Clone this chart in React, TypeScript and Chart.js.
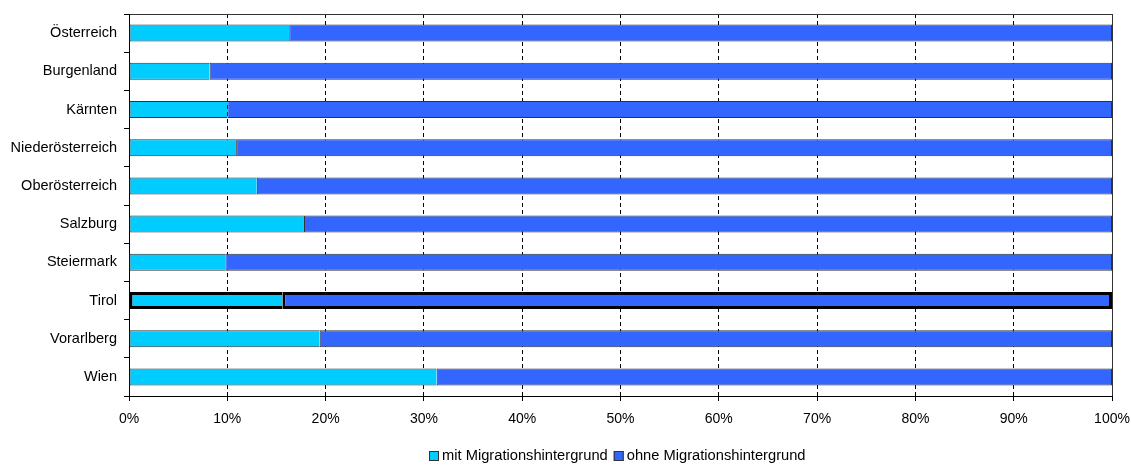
import { useEffect, useRef } from 'react';
import { Chart, registerables } from 'chart.js';

Chart.register(...registerables);

// Share of the population with / without migration background, by federal state (percent)
const regions = [
  'Österreich',
  'Burgenland',
  'Kärnten',
  'Niederösterreich',
  'Oberösterreich',
  'Salzburg',
  'Steiermark',
  'Tirol',
  'Vorarlberg',
  'Wien',
];
const withMigration = [16.3, 8.2, 10.0, 10.9, 13.0, 17.8, 9.8, 15.6, 19.4, 31.3];
const withoutMigration = [83.7, 91.8, 90.0, 89.1, 87.0, 82.2, 90.2, 84.4, 80.6, 68.7];
const seriesLabels = ['mit Migrationshintergrund', 'ohne Migrationshintergrund'];
const seriesColors = ['#00CCFF', '#3366FF'];
const highlightedRegion = 'Tirol';

const FONT = '"Liberation Sans", Arial, Helvetica, sans-serif';

const isHighlighted = (ctx: any) =>
  ctx && ctx.type === 'data' && regions[ctx.dataIndex] === highlightedRegion;

// Legend drawn below the x axis: small framed squares followed by the series names
const bottomLegend = {
  id: 'bottomLegend',
  afterDraw(chart: any) {
    const { ctx, chartArea } = chart;
    const box = 10;
    const textGap = 3;
    const itemGap = 6;
    ctx.save();
    ctx.font = `14.7px ${FONT}`;
    const items = chart.data.datasets.map((ds: any) => ({
      label: ds.label,
      color: ds.backgroundColor,
      w: ctx.measureText(ds.label).width,
    }));
    const total =
      items.reduce((s: number, it: any) => s + box + textGap + it.w, 0) +
      itemGap * (items.length - 1);
    let x = Math.round((chartArea.left + chartArea.right) / 2 - 3 - total / 2);
    const cy = chart.height - 10;
    ctx.textBaseline = 'middle';
    ctx.textAlign = 'left';
    for (const it of items) {
      const top = Math.round(cy - box / 2);
      ctx.fillStyle = it.color;
      ctx.fillRect(x, top, box, box);
      ctx.strokeStyle = '#333';
      ctx.lineWidth = 1;
      ctx.strokeRect(x + 0.5, top + 0.5, box - 1, box - 1);
      ctx.fillStyle = '#000';
      ctx.fillText(it.label, x + box + textGap, cy);
      x += box + textGap + it.w + itemGap;
    }
    ctx.restore();
  },
};

export default function App() {
  const canvasRef = useRef<HTMLCanvasElement | null>(null);

  useEffect(() => {
    const canvas = canvasRef.current;
    if (!canvas) return;

    const chart = new Chart(canvas, {
      type: 'bar',
      data: {
        labels: regions,
        datasets: [
          {
            label: seriesLabels[0],
            data: withMigration,
            backgroundColor: seriesColors[0],
            borderColor: (ctx: any) => (isHighlighted(ctx) ? '#000' : '#333'),
            borderWidth: (ctx: any) => {
              const w = isHighlighted(ctx) ? 3 : 1;
              return { top: w, bottom: w, left: w, right: 0 };
            },
            borderSkipped: false,
            categoryPercentage: 0.445,
            barPercentage: 1,
          },
          {
            label: seriesLabels[1],
            data: withoutMigration,
            backgroundColor: seriesColors[1],
            borderColor: (ctx: any) => (isHighlighted(ctx) ? '#000' : '#333'),
            borderWidth: (ctx: any) => {
              const w = isHighlighted(ctx) ? 3 : 1;
              return { top: w, bottom: w, left: w, right: w };
            },
            borderSkipped: false,
            categoryPercentage: 0.445,
            barPercentage: 1,
          },
        ],
      },
      options: {
        indexAxis: 'y',
        responsive: false,
        devicePixelRatio: 1,
        animation: false,
        layout: { padding: { top: 14, right: 19, bottom: 0, left: 0 } },
        plugins: {
          legend: { display: false },
          tooltip: { enabled: false },
        },
        scales: {
          x: {
            type: 'linear',
            stacked: true,
            min: 0,
            max: 100,
            ticks: {
              stepSize: 10,
              padding: 10,
              color: '#000',
              font: { family: FONT, size: 14 },
              callback: (v: any) => `${v}%`,
            },
            grid: {
              color: (ctx: any) =>
                ctx.tick && ctx.tick.value === 0
                  ? 'rgba(0,0,0,0)'
                  : ctx.tick && ctx.tick.value === 100
                  ? '#333'
                  : '#000',
              lineWidth: 1,
              tickColor: '#000',
              tickLength: 5,
              tickBorderDash: [],
            },
            border: {
              color: '#000',
              dash: (ctx: any) =>
                ctx.tick && ctx.tick.value > 0 && ctx.tick.value < 100 ? [4, 3] : [],
            },
            afterFit: (scale: any) => {
              scale.height = 70;
              scale.paddingLeft = 0;
              scale.paddingRight = 0;
            },
          },
          y: {
            type: 'category',
            stacked: true,
            ticks: {
              padding: 7,
              color: '#000',
              font: { family: FONT, size: 14.5 },
            },
            grid: {
              offset: true,
              color: (ctx: any) => (ctx.index === 0 ? '#333' : 'rgba(0,0,0,0)'),
              tickColor: '#000',
              tickLength: 5,
              lineWidth: 1,
            },
            border: { color: '#000' },
            afterFit: (scale: any) => {
              scale.width = 129;
              scale.paddingTop = 0;
              scale.paddingBottom = 0;
            },
          },
        },
      },
      plugins: [bottomLegend],
    } as any);

    return () => chart.destroy();
  }, []);

  return (
    <div
      style={{
        position: 'fixed',
        left: 0,
        top: 0,
        width: 1131,
        height: 466,
        background: '#fff',
      }}
    >
      <canvas ref={canvasRef} width={1131} height={466} style={{ display: 'block' }} />
    </div>
  );
}
